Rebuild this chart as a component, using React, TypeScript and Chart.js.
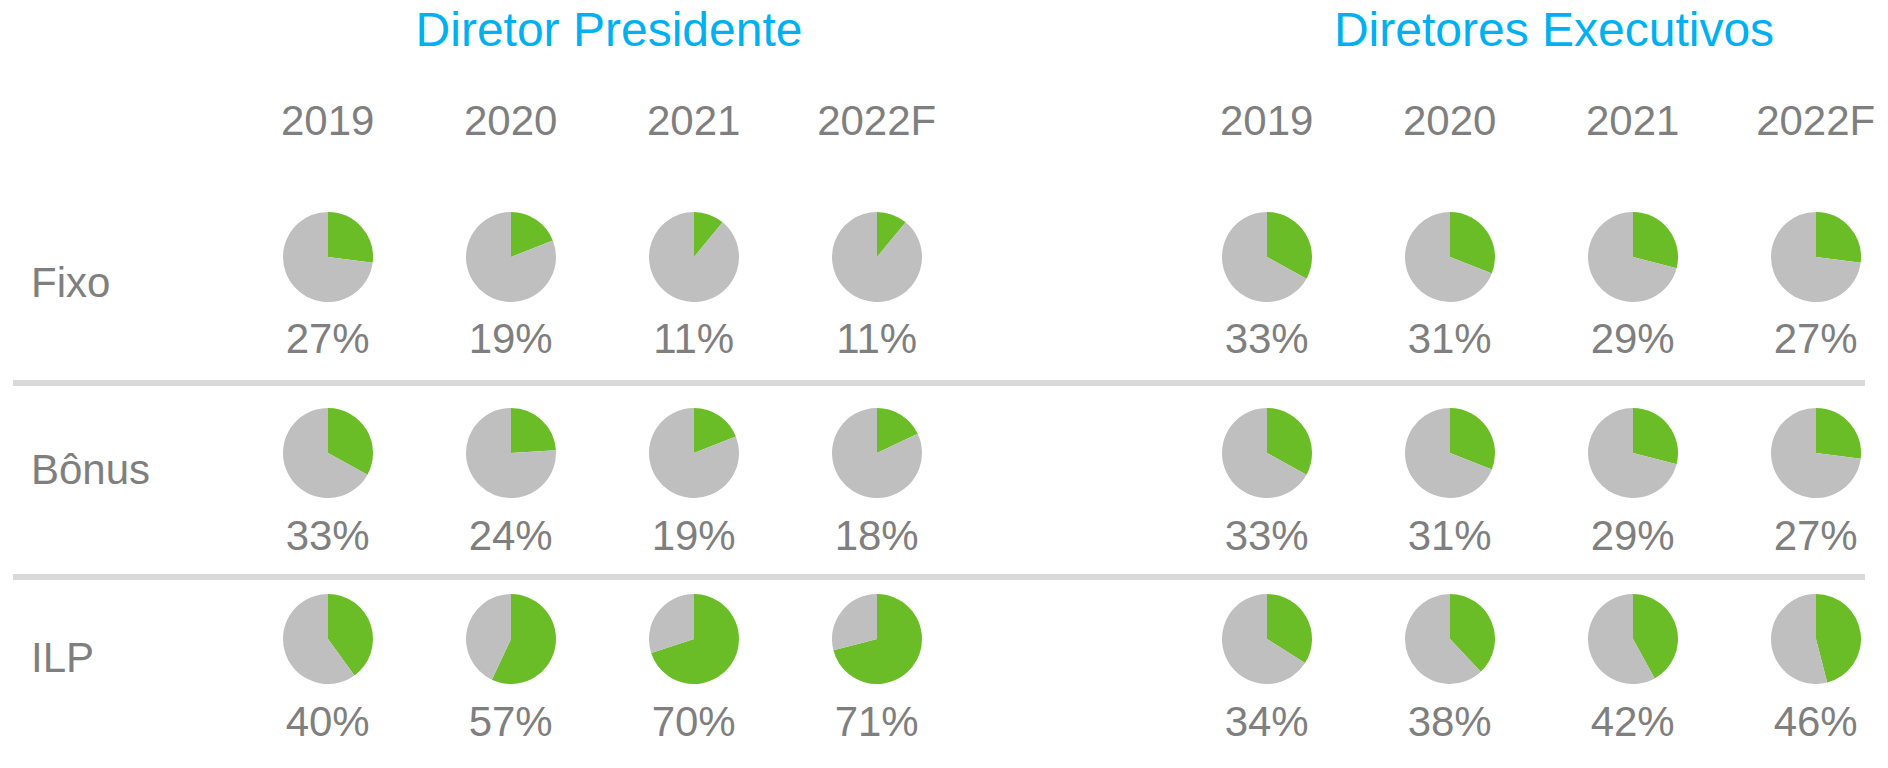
import React, { useEffect, useRef } from "react";
import { Chart, registerables } from "chart.js";

Chart.register(...registerables);

// ---- data ----
const panelTitles = ["Diretor Presidente", "Diretores Executivos"];
const years = ["2019", "2020", "2021", "2022F"];
const rowLabels = ["Fixo", "Bônus", "ILP"];
const presidenteFixo = [27, 19, 11, 11];
const presidenteBonus = [33, 24, 19, 18];
const presidenteIlp = [40, 57, 70, 71];
const executivosFixo = [33, 31, 29, 27];
const executivosBonus = [33, 31, 29, 27];
const executivosIlp = [34, 38, 42, 46];

const panelValues = [
  [presidenteFixo, presidenteBonus, presidenteIlp],
  [executivosFixo, executivosBonus, executivosIlp],
];

// ---- layout / style ----
const GREEN = "#6BBD28";
const GREY = "#BFBFBF";
const TEXT = "#7F7F7F";
const TITLE = "#00B0F0";
const FONT = '"Liberation Sans", Arial, sans-serif';
const PIE = 90;
const colX = [
  [327.7, 510.7, 693.7, 876.7],
  [1266.7, 1449.7, 1632.7, 1815.7],
];
const titleX = [609, 1554];
const pieCY = [257, 453, 639];
const pctBase = [354, 551, 737];
const rowBase = [298, 485, 673];
const sepTop = [380, 574];

function topFor(baseline: number, size: number) {
  return baseline - 0.8465 * size;
}

function Pie({ value, label, cx, cy }: { value: number; label: string; cx: number; cy: number }) {
  const ref = useRef<HTMLCanvasElement | null>(null);
  useEffect(() => {
    if (!ref.current) return;
    const chart = new Chart(ref.current, {
      type: "pie",
      data: {
        labels: [label, "Outros"],
        datasets: [
          {
            data: [value, 100 - value],
            backgroundColor: [GREEN, GREY],
            borderWidth: 0,
            hoverOffset: 0,
            offset: 0,
          },
        ],
      },
      options: {
        responsive: false,
        animation: false,
        events: [],
        layout: { padding: 0 },
        plugins: { legend: { display: false }, tooltip: { enabled: false }, title: { display: false } },
      },
    });
    return () => chart.destroy();
  }, [value, label]);
  return (
    <canvas
      ref={ref}
      width={PIE}
      height={PIE}
      style={{ position: "absolute", left: cx - PIE / 2, top: cy - PIE / 2, width: PIE, height: PIE }}
    />
  );
}

function Text({
  children,
  x,
  baseline,
  size,
  color,
  align = "center",
}: {
  children: React.ReactNode;
  x: number;
  baseline: number;
  size: number;
  color: string;
  align?: "center" | "left";
}) {
  return (
    <div
      style={{
        position: "absolute",
        left: x,
        top: topFor(baseline, size),
        transform: align === "center" ? "translateX(-50%)" : undefined,
        fontFamily: FONT,
        fontSize: size,
        lineHeight: `${size}px`,
        color,
        whiteSpace: "nowrap",
      }}
    >
      {children}
    </div>
  );
}

export default function App() {
  return (
    <div
      style={{
        position: "absolute",
        left: 0,
        top: 0,
        width: 1888,
        height: 768,
        background: "#ffffff",
        overflow: "hidden",
      }}
    >
      {panelTitles.map((t, p) => (
        <Text key={t} x={titleX[p]} baseline={47} size={48} color={TITLE}>
          {t}
        </Text>
      ))}
      {panelTitles.map((t, p) =>
        years.map((y, c) => (
          <Text key={t + y} x={colX[p][c]} baseline={136} size={42} color={TEXT}>
            {y}
          </Text>
        ))
      )}
      {rowLabels.map((r, i) => (
        <Text key={r} x={31} baseline={rowBase[i]} size={42} color={TEXT} align="left">
          {r}
        </Text>
      ))}
      {sepTop.map((t, i) => (
        <div
          key={i}
          style={{ position: "absolute", left: 13, top: t, width: 1852, height: 6, background: "#D9D9D9" }}
        />
      ))}
      {panelValues.map((rows, p) =>
        rows.map((vals, r) =>
          vals.map((v, c) => (
            <React.Fragment key={`${p}-${r}-${c}`}>
              <Pie value={v} label={rowLabels[r]} cx={colX[p][c]} cy={pieCY[r]} />
              <Text x={colX[p][c]} baseline={pctBase[r]} size={42} color={TEXT}>
                {v}%
              </Text>
            </React.Fragment>
          ))
        )
      )}
    </div>
  );
}
